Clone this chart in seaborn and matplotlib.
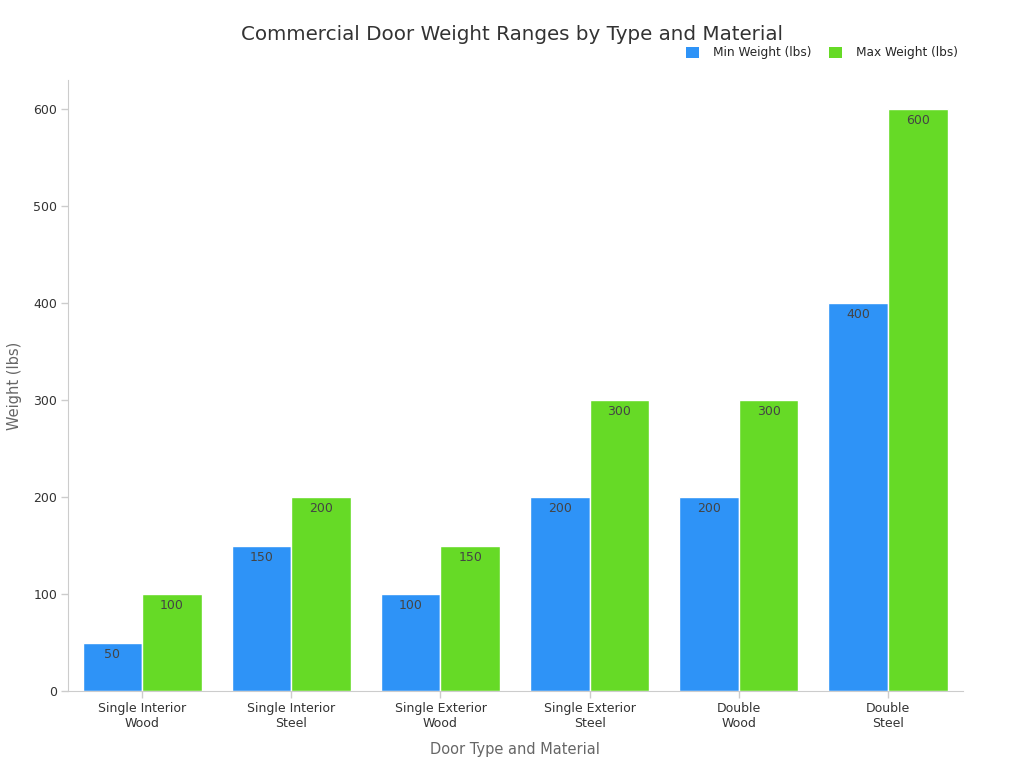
import pandas as pd
import numpy as np
import seaborn as sns
import matplotlib.pyplot as plt

categories = ["Single Interior\nWood", "Single Interior\nSteel", "Single Exterior\nWood",
              "Single Exterior\nSteel", "Double\nWood", "Double\nSteel"]
min_weight = [50, 150, 100, 200, 200, 400]
max_weight = [100, 200, 150, 300, 300, 600]
series_names = ["Min Weight (lbs)", "Max Weight (lbs)"]
colors = ["#2E93F7", "#66DA26"]

df = pd.DataFrame({"Door": categories, series_names[0]: min_weight, series_names[1]: max_weight})
long_df = df.melt(id_vars="Door", var_name="Series", value_name="Weight")

sns.set_style("white")
plt.rcParams['font.family'] = ['DejaVu Sans']

fig = plt.figure(figsize=(10.24, 7.68), dpi=100)
ax = fig.add_axes([0.066, 0.100, 0.874, 0.796])
sns.barplot(data=long_df, x="Door", y="Weight", hue="Series", palette=colors,
            width=0.8, edgecolor="white", linewidth=1, saturation=1, ax=ax)

for c in ax.containers:
    ax.bar_label(c, fmt="%d", padding=-13, fontsize=9, color="#444444")

ax.set_xlim(-0.5, 5.5)
ax.set_ylim(0, 630)
ax.set_yticks([0, 100, 200, 300, 400, 500, 600])
ax.set_xlabel("Door Type and Material", fontsize=10.5, color="#666666", labelpad=9)
ax.set_ylabel("Weight (lbs)", fontsize=10.5, color="#666666", labelpad=8)
ax.tick_params(axis="both", bottom=True, left=True, colors="#cccccc", labelcolor="#333333",
               labelsize=9, length=5, width=1, pad=2.5)
for s in ["top", "right"]:
    ax.spines[s].set_visible(False)
for s in ["left", "bottom"]:
    ax.spines[s].set_color("#cccccc")

fig.suptitle("Commercial Door Weight Ranges by Type and Material", fontsize=14.3, color="#333333",
             x=0.50, y=0.968)
leg = ax.legend(loc="center right", bbox_to_anchor=(1.0, 1.044), ncol=2, frameon=False, fontsize=8.7,
                handlelength=1.1, handleheight=1.1, columnspacing=1.5, handletextpad=1.1, borderaxespad=0)
for h in leg.legend_handles:
    h.set_linewidth(0)

fig.savefig("out.png", dpi=100)
